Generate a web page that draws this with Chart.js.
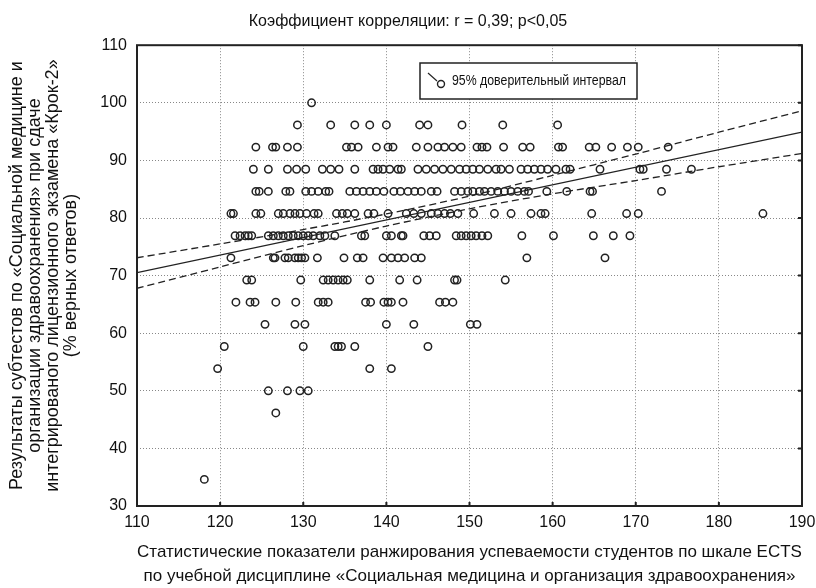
<!DOCTYPE html>
<html>
<head>
<meta charset="utf-8">
<script src="https://cdn.jsdelivr.net/npm/chart.js@4.4.1/dist/chart.umd.min.js"></script>
<style>
  html, body { margin: 0; padding: 0; background: #fff; }
  #wrap { width: 816px; height: 588px; }
</style>
</head>
<body>
<div id="wrap"><canvas id="myChart" width="816" height="588"></canvas></div>
<script>
// score levels (% верных ответов) and ECTS values of students at each level
const scoreLevels = [100, 96.15, 92.31, 88.46, 84.62, 80.77, 76.92, 73.08, 69.23, 65.38, 61.54, 57.69, 53.85, 50, 46.15, 34.62];
const ectsByLevel = [
  [131.0],
  [129.3, 133.3, 136.2, 138.0, 140.0, 144.0, 145.0, 149.1, 154.0, 160.6],
  [124.3, 126.3, 126.7, 128.1, 129.3, 135.2, 135.8, 136.6, 138.8, 140.2, 140.8, 143.6, 145.0, 146.2, 147.0, 148.0, 149.0, 150.9, 151.5, 152.1, 154.1, 156.4, 157.3, 160.7, 161.2, 164.4, 165.2, 167.1, 169.0, 170.3, 173.9],
  [124.0, 125.8, 128.1, 129.2, 130.3, 132.3, 133.3, 134.3, 136.2, 138.4, 139.0, 139.6, 140.4, 141.4, 141.8, 143.8, 144.8, 145.8, 146.8, 147.8, 148.8, 149.6, 150.4, 151.2, 152.2, 153.2, 153.8, 154.8, 156.2, 157.0, 157.8, 158.6, 159.4, 160.4, 161.6, 162.1, 165.7, 170.5, 170.9, 173.7, 176.7],
  [124.3, 124.7, 125.8, 127.9, 128.4, 130.3, 131.0, 131.8, 132.7, 133.1, 135.6, 136.4, 137.2, 138.0, 138.8, 139.7, 140.9, 141.7, 142.6, 143.4, 144.2, 145.4, 146.1, 148.2, 149.0, 149.8, 150.4, 151.2, 151.8, 152.6, 153.4, 154.2, 155.0, 155.8, 156.6, 157.1, 159.3, 161.7, 164.5, 164.8, 173.1],
  [121.3, 121.6, 124.3, 124.9, 127.0, 127.6, 128.4, 129.0, 129.6, 130.4, 131.3, 131.8, 134.0, 134.7, 135.3, 136.2, 137.8, 138.5, 140.2, 142.4, 143.3, 144.2, 145.4, 146.2, 147.0, 147.7, 148.6, 150.5, 153.0, 155.0, 157.4, 158.6, 159.1, 164.7, 168.9, 170.3, 185.3],
  [121.8, 122.4, 123.0, 123.4, 123.8, 125.8, 126.4, 127.0, 127.6, 128.2, 128.8, 129.4, 130.0, 130.6, 131.2, 132.0, 132.6, 133.8, 137.0, 137.4, 140.0, 140.6, 141.8, 142.0, 144.5, 145.2, 146.0, 148.4, 149.0, 149.6, 150.2, 150.8, 151.5, 152.2, 156.3, 160.1, 164.9, 167.3, 169.3],
  [121.3, 126.4, 126.6, 127.8, 128.2, 129.0, 129.4, 129.8, 130.2, 131.7, 134.9, 136.5, 137.2, 139.6, 140.6, 141.4, 142.2, 143.4, 144.2, 156.9, 166.3],
  [123.2, 123.8, 129.7, 132.4, 133.0, 133.6, 134.2, 134.8, 135.3, 138.0, 141.6, 143.7, 148.2, 148.5, 154.3],
  [121.9, 123.6, 124.2, 126.7, 129.1, 131.8, 132.4, 133.0, 137.5, 138.1, 139.7, 140.2, 140.6, 142.0, 146.4, 147.1, 148.0],
  [125.4, 129.0, 130.2, 140.0, 143.3, 150.1, 150.9],
  [120.5, 130.0, 133.8, 134.2, 134.6, 136.2, 145.0],
  [119.7, 138.0, 140.6],
  [125.8, 128.1, 129.6, 130.6],
  [126.7],
  [118.1]
];

// regression line and 95% confidence band, read at the x ticks
const bandX = [110, 120, 130, 140, 150, 160, 170, 180, 190];
const bandUpper = [73.1, 75.5, 78.0, 80.7, 83.8, 87.4, 91.1, 94.9, 98.6];
const bandLower = [67.8, 71.5, 75.2, 78.6, 81.6, 84.2, 86.5, 88.9, 91.2];
const fitX = [110, 190];
const fitY = [70.5, 94.9];

const xTicks = [110, 120, 130, 140, 150, 160, 170, 180, 190];
const yTicks = [30, 40, 50, 60, 70, 80, 90, 100, 110];

const narrow = '"Liberation Sans Narrow", "Liberation Sans", Arial, sans-serif';
const regular = '"Liberation Sans", Arial, sans-serif';

const points = [];
scoreLevels.forEach(function (lvl, i) {
  ectsByLevel[i].forEach(function (x) {
    points.push({ x: x, y: lvl });
  });
});

function pairs(xs, ys) {
  return xs.map(function (x, i) { return { x: x, y: ys[i] }; });
}

// box round the plot + inward ticks on bottom and right
const frame = {
  id: "frame",
  afterDatasetsDraw(chart) {
    const a = chart.chartArea;
    const ctx = chart.ctx;
    const xs = chart.scales.x, ys = chart.scales.y;
    ctx.save();
    ctx.strokeStyle = "#222";
    ctx.lineWidth = 2;
    ctx.strokeRect(a.left, a.top, a.right - a.left, a.bottom - a.top);
    ctx.beginPath();
    xTicks.forEach(function (t) {
      const px = xs.getPixelForValue(t);
      ctx.moveTo(px, a.bottom);
      ctx.lineTo(px, a.bottom - 4);
    });
    yTicks.forEach(function (t) {
      const py = ys.getPixelForValue(t);
      ctx.moveTo(a.right, py);
      ctx.lineTo(a.right - 4, py);
    });
    ctx.stroke();

    // legend
    const lx = 420, ly = 63, lw = 217, lh = 36;
    ctx.fillStyle = "#fff";
    ctx.fillRect(lx, ly, lw, lh);
    ctx.lineWidth = 1.5;
    ctx.strokeRect(lx, ly, lw, lh);
    ctx.lineWidth = 1.2;
    ctx.beginPath();
    ctx.moveTo(428, 73);
    ctx.lineTo(437, 81);
    ctx.stroke();
    ctx.beginPath();
    ctx.arc(441, 84, 3.5, 0, Math.PI * 2);
    ctx.lineWidth = 1.4;
    ctx.stroke();
    ctx.fillStyle = "#111";
    ctx.font = "14px " + narrow;
    ctx.textBaseline = "middle";
    ctx.translate(452, 81);
    ctx.scale(0.88, 1);
    ctx.fillText("95% доверительный интервал", 0, 0);
    ctx.restore();
  }
};

const config = {
  type: "scatter",
  data: {
    datasets: [
      {
        label: "fit",
        type: "line",
        data: pairs(fitX, fitY),
        borderColor: "#222",
        borderWidth: 1.3,
        pointRadius: 0,
        fill: false,
        order: 0
      },
      {
        label: "upper",
        type: "line",
        data: pairs(bandX, bandUpper),
        borderColor: "#222",
        borderWidth: 1.3,
        borderDash: [7, 4],
        pointRadius: 0,
        tension: 0.3,
        fill: false,
        order: 0
      },
      {
        label: "lower",
        type: "line",
        data: pairs(bandX, bandLower),
        borderColor: "#222",
        borderWidth: 1.3,
        borderDash: [7, 4],
        pointRadius: 0,
        tension: 0.3,
        fill: false,
        order: 0
      },
      {
        label: "students",
        data: points,
        pointStyle: "circle",
        pointRadius: 3.7,
        borderWidth: 1.5,
        borderColor: "#222",
        backgroundColor: "rgba(0,0,0,0)",
        order: 1
      }
    ]
  },
  options: {
    responsive: false,
    animation: false,
    layout: { padding: { left: 0, right: 0, top: 0, bottom: 0 } },
    plugins: {
      legend: { display: false },
      tooltip: { enabled: false },
      title: {
        display: true,
        text: "Коэффициент корреляции: r = 0,39; p<0,05",
        color: "#111",
        font: { family: narrow, size: 16, weight: "normal", lineHeight: 1.2 },
        padding: { top: 12, bottom: 14 }
      }
    },
    scales: {
      x: {
        type: "linear",
        min: 110,
        max: 190,
        afterBuildTicks(s) { s.ticks = xTicks.map(function (v) { return { value: v }; }); },
        afterFit(s) { s.height = 82; s.paddingRight = 14; s.paddingLeft = 0; },
        grid: { color: "#888", lineWidth: 1, drawTicks: false },
        border: { display: false, dash: [1, 2] },
        ticks: { color: "#111", padding: 7, font: { family: narrow, size: 16 }, maxRotation: 0 },
        title: {
          display: true,
          text: [
            "Статистические показатели ранжирования успеваемости студентов по шкале ECTS",
            "по учебной дисциплине «Социальная медицина и организация здравоохранения»"
          ],
          color: "#111",
          font: { family: narrow, size: 17, lineHeight: 1.4 },
          padding: { top: 0, bottom: 0 }
        }
      },
      y: {
        type: "linear",
        min: 30,
        max: 110,
        afterBuildTicks(s) { s.ticks = yTicks.map(function (v) { return { value: v }; }); },
        afterFit(s) { s.width = 137; },
        grid: { color: "#888", lineWidth: 1, drawTicks: false },
        border: { display: false, dash: [1, 2] },
        ticks: { color: "#111", padding: 10, font: { family: narrow, size: 16 } },
        title: {
          display: true,
          text: [
            "Результаты субтестов по «Социальной медицине и",
            "организации здравоохранения» при сдаче",
            "интегрированого лицензионного экзамена «Крок-2»",
            "(% верных ответов)"
          ],
          color: "#111",
          font: { family: regular, size: 18, lineHeight: 1.0 },
          padding: { top: 8, bottom: 0 }
        }
      }
    }
  },
  plugins: [frame]
};

const myChart = new Chart(document.getElementById("myChart"), config);
</script>
</body>
</html>
